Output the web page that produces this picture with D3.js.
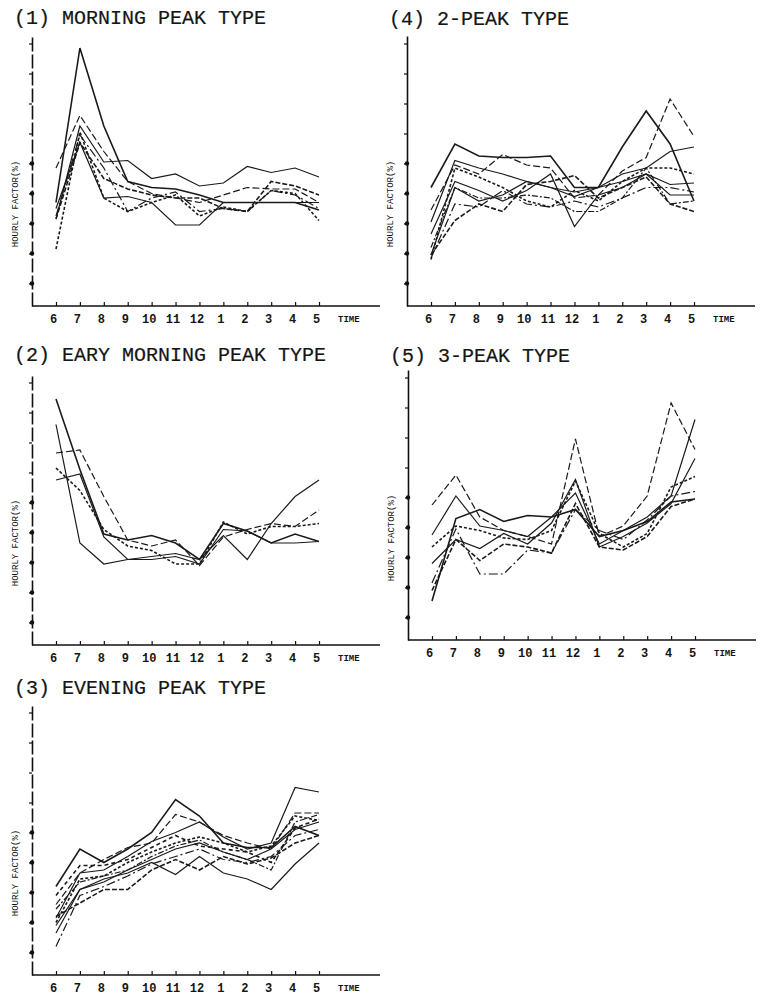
<!DOCTYPE html>
<html>
<head>
<meta charset="utf-8">
<script src="https://cdn.jsdelivr.net/npm/d3@7"></script>
<style>
  body { margin: 0; background: #fff; }
  svg { display: block; }
  text { font-family: "Liberation Mono", "DejaVu Sans Mono", monospace; fill: #151515; }
</style>
</head>
<body>
<div class="hourly_chart"></div>
<script>
  // hour index 0..11 = 6 a.m. .. 5 p.m.
  const hours = [0, 1, 2, 3, 4, 5, 6, 7, 8, 9, 10, 11];
  const hourLabels = ["6", "7", "8", "9", "10", "11", "12", "1", "2", "3", "4", "5"];
  // unlabelled y ticks (hourly factor, %)
  const yTicks = [1.5, 3.5, 5.5, 7.5, 9.5, 11.5, 13.5, 15.5, 17.5];

  // (1) morning peak type
  const morningPeak = [
    [6.9, 17.2, 12.0, 8.3, 7.9, 7.8, 7.4, 6.9, 6.9, 6.9, 6.9, 6.4],
    [9.2, 12.7, 10.3, 8.3, 7.5, 7.2, 6.9, 7.4, 7.9, 7.8, 7.8, 6.9],
    [5.8, 12.0, 9.6, 9.7, 8.5, 8.8, 8.0, 8.2, 9.3, 8.9, 9.2, 8.6],
    [3.8, 11.6, 7.2, 6.3, 6.9, 7.4, 6.0, 6.6, 6.3, 7.7, 7.5, 5.7],
    [6.5, 10.9, 7.2, 7.3, 6.9, 5.4, 5.4, 6.9, 6.9, 6.9, 6.9, 6.9],
    [6.0, 11.4, 9.2, 6.3, 7.2, 7.6, 6.3, 6.5, 6.3, 7.7, 7.4, 6.5],
    [5.8, 10.9, 8.5, 7.8, 7.4, 7.2, 7.2, 6.5, 6.3, 8.3, 8.0, 7.4]
  ];

  // (2) early morning peak type
  const earlyPeak = [
    [16.4, 11.7, 7.4, 7.0, 7.3, 6.8, 5.7, 8.1, 7.6, 6.8, 7.4, 6.9],
    [12.8, 13.0, 9.9, 7.0, 6.6, 7.0, 5.3, 7.2, 7.7, 8.1, 7.9, 9.0],
    [14.7, 6.8, 5.4, 5.7, 5.9, 6.1, 5.7, 7.3, 5.7, 8.1, 9.9, 11.0],
    [11.8, 10.3, 7.7, 6.6, 6.3, 5.4, 5.4, 8.2, 7.4, 7.9, 7.9, 8.1],
    [11.0, 11.4, 7.2, 5.7, 5.7, 5.9, 5.4, 7.7, 7.6, 6.8, 6.8, 6.9]
  ];

  // (3) evening peak type
  const eveningPeak = [
    [5.9, 8.4, 7.5, 8.4, 9.5, 11.7, 10.6, 8.8, 8.5, 8.5, 9.9, 9.3],
    [4.7, 6.8, 7.7, 8.5, 8.8, 10.7, 10.2, 9.3, 8.8, 8.4, 10.8, 10.8],
    [3.8, 6.8, 7.0, 7.9, 8.9, 9.5, 10.2, 9.2, 8.4, 8.8, 12.5, 12.2],
    [3.5, 6.4, 6.6, 7.5, 8.2, 8.8, 9.2, 8.8, 8.2, 8.6, 10.6, 10.3],
    [2.8, 5.7, 6.2, 7.0, 7.7, 8.4, 8.8, 8.2, 7.7, 8.4, 9.7, 10.2],
    [1.9, 5.3, 5.9, 6.6, 7.4, 7.9, 8.4, 7.7, 7.5, 7.9, 9.3, 9.7],
    [3.9, 4.8, 5.7, 5.7, 7.0, 7.7, 7.0, 7.9, 7.4, 7.8, 8.8, 9.3],
    [3.3, 5.7, 6.4, 6.8, 7.5, 6.7, 7.9, 6.8, 6.4, 5.7, 7.4, 8.8],
    [4.4, 6.2, 6.6, 7.0, 7.9, 8.6, 9.0, 8.2, 7.7, 7.0, 10.2, 10.7],
    [5.3, 7.3, 7.3, 7.7, 8.5, 9.3, 8.6, 8.4, 8.2, 7.5, 9.8, 10.4]
  ];

  // (4) 2-peak type
  const twoPeak = [
    [7.9, 10.8, 10.0, 9.9, 9.9, 10.0, 7.9, 7.9, 10.6, 13.0, 10.8, 7.0],
    [6.4, 9.4, 8.8, 10.1, 9.4, 9.2, 7.2, 7.4, 9.0, 9.9, 13.8, 11.3],
    [5.6, 9.7, 9.2, 8.8, 8.3, 7.9, 7.6, 7.9, 8.8, 9.2, 10.3, 10.6],
    [3.1, 9.2, 8.6, 7.9, 7.0, 6.6, 7.7, 7.0, 8.3, 9.2, 9.2, 8.8],
    [3.4, 7.9, 7.0, 7.4, 8.3, 7.9, 7.3, 7.9, 8.3, 8.8, 8.1, 8.2],
    [3.2, 6.8, 6.6, 7.7, 6.8, 6.6, 7.0, 6.6, 7.2, 7.9, 7.9, 7.6],
    [3.4, 5.7, 6.8, 6.3, 8.1, 8.3, 8.7, 7.2, 7.9, 8.6, 6.8, 6.3],
    [4.8, 8.3, 7.7, 7.0, 7.7, 8.8, 5.3, 7.4, 7.9, 8.8, 7.4, 7.4],
    [3.9, 7.9, 7.2, 7.2, 7.4, 7.2, 6.3, 6.3, 7.2, 9.2, 6.8, 7.0]
  ];

  // (5) 3-peak type
  const threePeak = [
    [2.6, 8.1, 8.7, 7.9, 8.3, 8.2, 8.7, 6.9, 7.3, 7.9, 9.2, 9.4],
    [9.0, 11.0, 8.2, 7.3, 6.9, 6.4, 13.4, 6.9, 7.6, 9.6, 15.8, 12.7],
    [7.0, 9.6, 7.6, 7.3, 6.9, 8.2, 9.8, 6.4, 7.3, 8.2, 9.6, 14.7],
    [6.2, 7.6, 7.3, 6.8, 6.7, 7.3, 10.6, 7.1, 6.2, 7.1, 10.2, 10.9],
    [5.1, 6.7, 6.1, 7.1, 6.4, 7.8, 10.7, 6.2, 6.9, 7.8, 9.1, 12.1],
    [3.8, 7.4, 4.4, 4.4, 6.0, 5.8, 8.7, 7.3, 6.7, 8.0, 9.6, 9.9],
    [3.3, 6.7, 5.3, 6.4, 6.2, 5.8, 9.1, 6.2, 6.0, 6.9, 8.9, 9.4]
  ];

  // line styles of the original (solid / dashed / dash-dot)
  const dashes = [null, "7,3", null, "3,2", null, "9,3,2,3", "5,2", null, "6,2,2,2", "4,3"];

  const width = 760, height = 999;

  const svg = d3.select(".hourly_chart")
    .append("svg")
    .attr("width", width)
    .attr("height", height);

  // panel placement: y-axis x, x-axis y, title baseline
  const panels = [
    {title: "(1) MORNING PEAK TYPE",       data: morningPeak, ax: 32,  by: 306, ty: 24,  dashedAxis: true},
    {title: "(2) EARY MORNING PEAK TYPE",  data: earlyPeak,   ax: 32,  by: 645, ty: 361, dashedAxis: true},
    {title: "(3) EVENING PEAK TYPE",       data: eveningPeak, ax: 32,  by: 975, ty: 694, dashedAxis: true},
    {title: "(4) 2-PEAK TYPE",             data: twoPeak,     ax: 407, by: 306, ty: 25,  dashedAxis: false},
    {title: "(5) 3-PEAK TYPE",             data: threePeak,   ax: 408, by: 640, ty: 362, dashedAxis: false}
  ];

  panels.forEach(function(p) {
    const g = svg.append("g");

    const x = d3.scaleLinear()
      .domain([0, 11])
      .range([p.ax + 24, p.ax + 287]);

    const y = d3.scaleLinear()
      .domain([0, 18])
      .range([p.by, p.by - 270]);

    // title
    g.append("text")
      .attr("x", p.ax - 18)
      .attr("y", p.ty)
      .style("font-size", "20px")
      .style("stroke", "#151515")
      .style("stroke-width", 0.2)
      .text(p.title);

    // y axis
    const yAxis = g.append("g")
      .attr("transform", `translate(${p.ax},0)`)
      .call(d3.axisLeft(y).tickValues(yTicks).tickSize(3).tickSizeOuter(0).tickFormat(""));
    yAxis.select(".domain")
      .attr("stroke", "#111")
      .attr("stroke-width", 1.6)
      .attr("stroke-dasharray", p.dashedAxis ? "14,3" : null);
    yAxis.selectAll(".tick line").attr("stroke", "#111").attr("stroke-width", 1.2);

    g.selectAll(".ydot")
      .data(yTicks.slice(0, 5))
      .enter()
      .append("circle")
      .attr("cx", p.ax)
      .attr("cy", d => y(d))
      .attr("r", 2.2)
      .attr("fill", "#111");

    // y axis label
    g.append("text")
      .attr("transform", `translate(${p.ax - 14},${p.by - 102}) rotate(-90)`)
      .style("text-anchor", "middle")
      .style("font-size", "9px")
      .text("HOURLY FACTOR(%)");

    // x axis line
    g.append("line")
      .attr("x1", p.ax)
      .attr("x2", p.ax + 348)
      .attr("y1", p.by)
      .attr("y2", p.by)
      .attr("stroke", "#111")
      .attr("stroke-width", 1.6);

    const xAxis = g.append("g")
      .attr("transform", `translate(-3,${p.by})`)
      .call(d3.axisBottom(x).tickValues(hours).tickSize(-4).tickSizeOuter(0).tickPadding(8)
        .tickFormat(i => hourLabels[i]));
    xAxis.select(".domain").remove();
    xAxis.selectAll(".tick line").attr("stroke", "#111").attr("stroke-width", 1.2).attr("transform", "translate(3,0)");
    xAxis.selectAll(".tick text")
      .style("font-family", "'Liberation Mono', monospace")
      .style("font-size", "12px")
      .style("font-weight", "bold")
      .attr("fill", "#151515");

    g.append("text")
      .attr("x", p.ax + 306)
      .attr("y", p.by + 16)
      .style("font-size", "9px")
      .style("font-weight", "bold")
      .text("TIME");

    // hourly factor lines
    const line = d3.line()
      .x((d, i) => x(hours[i]))
      .y(d => y(d));

    g.selectAll(".series")
      .data(p.data)
      .enter()
      .append("path")
      .attr("d", line)
      .attr("fill", "none")
      .attr("stroke", "#1a1a1a")
      .attr("stroke-width", (d, i) => i % 3 === 0 ? 1.6 : 1.2)
      .attr("stroke-dasharray", (d, i) => dashes[i % dashes.length]);
  });
</script>
</body>
</html>
